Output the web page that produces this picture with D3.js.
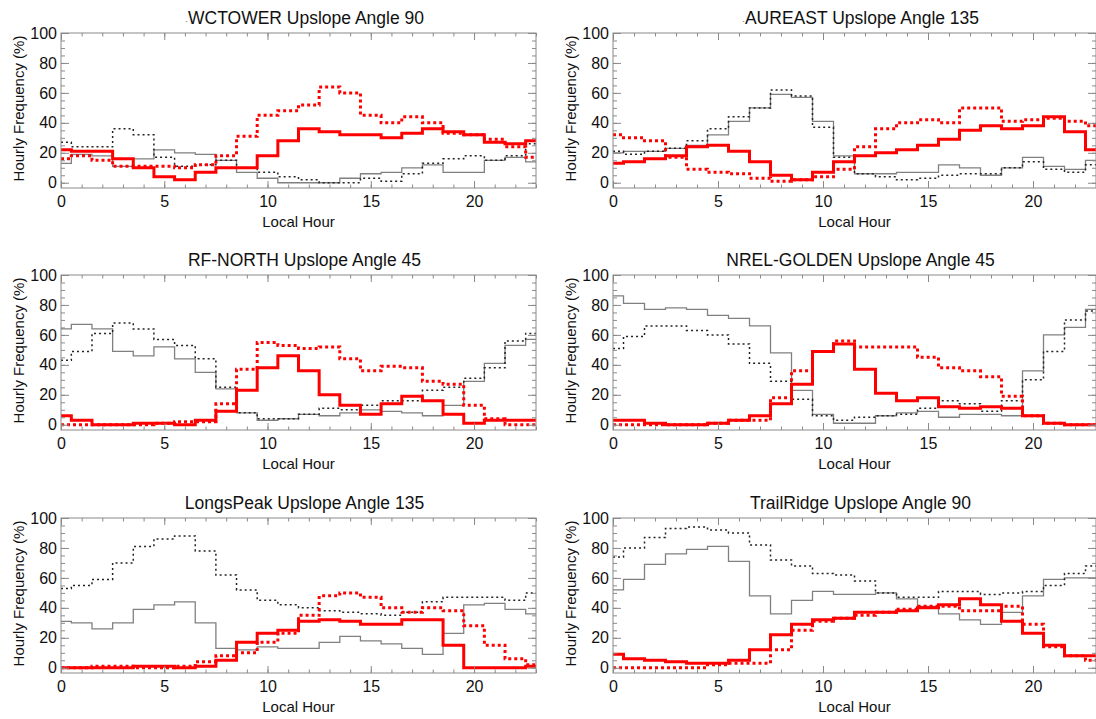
<!DOCTYPE html>
<html>
<head>
<meta charset="utf-8">
<script src="https://cdn.jsdelivr.net/npm/d3@7"></script>
<style>
  html, body { margin: 0; padding: 0; background: #fff; }
  svg { display: block; font-family: "Liberation Sans", Arial, Helvetica, sans-serif; }
</style>
</head>
<body>
<svg id="chart" width="1096" height="719"></svg>
<script>
// Hours of the day (local time), one histogram bin per hour
const hours = d3.range(0, 24);
const xTickLabels = [0, 5, 10, 15, 20];
const yTickLabels = [0, 20, 40, 60, 80, 100];

// WCTOWER, upslope angle 90
const wctowerRedSolid = [22, 21, 21, 16, 10, 4, 2, 7, 10, 10, 18, 28, 36, 34, 32, 32, 30, 33, 36, 34, 32, 27, 26, 28];
const wctowerRedDotted = [16, 18, 15, 11, 11, 11, 10, 12, 18, 31, 45, 48, 52, 64, 60, 45, 40, 44, 40, 33, 32, 29, 24, 17];
const wctowerGraySolid = [13, 19, 18, 11, 16, 22, 20, 19, 15, 7, 3, 0, 0, 0, 3, 6, 7, 10, 12, 7, 7, 15, 17, 14];
const wctowerBlackDotted = [27, 24, 24, 36, 32, 17, 11, 12, 15, 10, 7, 4, 2, 0, 0, 3, 1, 6, 13, 16, 18, 15, 18, 26];

// AUREAST, upslope angle 135
const aureastRedSolid = [13, 14, 16, 18, 24, 25, 21, 14, 5, 2, 7, 14, 18, 20, 22, 25, 29, 35, 38, 36, 38, 44, 34, 22];
const aureastRedDotted = [32, 30, 28, 17, 9, 7, 6, 3, 1, 2, 4, 9, 24, 36, 40, 42, 40, 50, 50, 41, 42, 43, 41, 38];
const aureastGraySolid = [20, 21, 21, 23, 25, 32, 41, 50, 59, 57, 41, 18, 6, 6, 7, 7, 12, 10, 5, 10, 17, 11, 9, 15];
const aureastBlackDotted = [21, 19, 21, 23, 28, 36, 44, 50, 62, 58, 37, 17, 6, 4, 2, 3, 5, 6, 6, 10, 14, 9, 7, 12];

// RF-NORTH, upslope angle 45
const rfnorthRedSolid = [6, 3, 0, 0, 1, 1, 0, 3, 9, 23, 38, 46, 36, 20, 13, 7, 14, 19, 16, 7, 1, 3, 3, 3];
const rfnorthRedDotted = [0, 0, 0, 0, 0, 1, 2, 2, 14, 37, 55, 53, 51, 52, 44, 36, 39, 38, 29, 27, 13, 4, 0, 0];
const rfnorthGraySolid = [64, 67, 64, 49, 46, 52, 44, 35, 24, 8, 3, 4, 7, 6, 8, 10, 9, 8, 6, 13, 29, 41, 53, 57];
const rfnorthBlackDotted = [43, 49, 61, 68, 64, 57, 53, 44, 25, 8, 4, 4, 7, 11, 10, 13, 16, 16, 23, 25, 31, 38, 56, 61];

// NREL-GOLDEN, upslope angle 45
const nrelRedSolid = [3, 3, 1, 0, 0, 1, 3, 6, 14, 27, 49, 54, 37, 21, 16, 18, 12, 11, 12, 11, 6, 1, 0, 0];
const nrelRedDotted = [0, 0, 0, 0, 0, 1, 3, 3, 18, 36, 49, 56, 52, 52, 52, 45, 38, 36, 32, 19, 6, 1, 0, 0];
const nrelGraySolid = [86, 81, 77, 78, 77, 73, 71, 66, 48, 23, 7, 1, 1, 6, 8, 9, 5, 7, 7, 6, 36, 60, 65, 77];
const nrelBlackDotted = [51, 59, 66, 66, 63, 60, 54, 41, 29, 17, 6, 3, 5, 6, 7, 11, 16, 14, 9, 16, 30, 49, 70, 76];

// LongsPeak, upslope angle 135
const longsRedSolid = [0, 0, 0, 0, 1, 1, 0, 1, 5, 17, 23, 25, 31, 32, 31, 29, 29, 32, 32, 15, 0, 0, 0, 1];
const longsRedDotted = [0, 0, 1, 1, 0, 0, 1, 4, 8, 10, 17, 23, 35, 48, 50, 47, 40, 37, 40, 38, 28, 15, 6, 2];
const longsGraySolid = [31, 30, 26, 30, 39, 42, 44, 30, 13, 12, 14, 13, 13, 17, 21, 18, 16, 13, 9, 23, 42, 43, 39, 36];
const longsBlackDotted = [53, 55, 59, 70, 81, 86, 88, 78, 62, 52, 45, 42, 40, 38, 37, 36, 35, 37, 44, 47, 47, 47, 45, 50];

// TrailRidge, upslope angle 90
const trailRedSolid = [9, 6, 5, 4, 3, 3, 5, 12, 22, 29, 32, 33, 37, 37, 38, 40, 42, 46, 42, 31, 23, 15, 8, 8];
const trailRedDotted = [0, 0, 0, 0, 0, 2, 3, 3, 12, 25, 31, 33, 35, 37, 39, 41, 41, 38, 38, 41, 29, 14, 8, 5];
const trailGraySolid = [52, 59, 69, 76, 79, 81, 71, 48, 36, 45, 51, 49, 49, 50, 46, 41, 36, 32, 29, 37, 48, 59, 60, 60];
const trailBlackDotted = [74, 80, 87, 93, 94, 92, 90, 82, 72, 68, 63, 62, 58, 50, 47, 47, 51, 51, 49, 50, 51, 55, 63, 68];

const panels = [
  { title: "WCTOWER Upslope Angle 90", dot: true, col: 0, row: 0,
    series: [wctowerGraySolid, wctowerBlackDotted, wctowerRedDotted, wctowerRedSolid] },
  { title: "AUREAST Upslope Angle 135", dot: true, col: 1, row: 0,
    series: [aureastGraySolid, aureastBlackDotted, aureastRedDotted, aureastRedSolid] },
  { title: "RF-NORTH Upslope Angle 45", col: 0, row: 1,
    series: [rfnorthGraySolid, rfnorthBlackDotted, rfnorthRedDotted, rfnorthRedSolid] },
  { title: "NREL-GOLDEN Upslope Angle 45", col: 1, row: 1,
    series: [nrelGraySolid, nrelBlackDotted, nrelRedDotted, nrelRedSolid] },
  { title: "LongsPeak Upslope Angle 135", col: 0, row: 2,
    series: [longsGraySolid, longsBlackDotted, longsRedDotted, longsRedSolid] },
  { title: "TrailRidge Upslope Angle 90", col: 1, row: 2,
    series: [trailGraySolid, trailBlackDotted, trailRedDotted, trailRedSolid] }
];

// Line styles in drawing order: gray solid, black dotted, red dotted, red solid
const styles = [
  { stroke: "#808080", width: 1.3, dash: null },
  { stroke: "#222222", width: 1.5, dash: "2,3" },
  { stroke: "#ff0000", width: 3, dash: "3,3" },
  { stroke: "#ff0000", width: 3, dash: null }
];

// Plot frames: left/right edges per column, top edge per row
const colX = [[61, 536], [613, 1096]];
const rowY = [33, 275, 518];
const H = 155;
const axisColor = "#8a8a8a";
const fontStack = '"Liberation Sans", Arial, Helvetica, sans-serif';

const svg = d3.select("#chart");

panels.forEach(p => {
  const [x0, x1] = colX[p.col];
  const W = x1 - x0;
  const g = svg.append("g").attr("transform", `translate(${x0},${rowY[p.row]})`);
  const x = d3.scaleLinear().domain([0, 23]).range([0, W]);
  const y = d3.scaleLinear().domain([-3.5, 100]).range([H, 0]);

  // Histogram-style step lines centred on each hour
  const line = d3.line()
    .x((d, i) => x(hours[i]))
    .y(d => y(d))
    .curve(d3.curveStep);

  const plot = g.append("g");
  p.series.forEach((vals, k) => {
    const s = styles[k];
    plot.append("path")
      .datum(vals)
      .attr("d", line)
      .attr("fill", "none")
      .attr("stroke", s.stroke)
      .attr("stroke-width", s.width)
      .attr("stroke-dasharray", s.dash)
      .attr("stroke-linejoin", "miter");
  });

  // Axis box
  g.append("rect").attr("x", 0).attr("y", 0).attr("width", W).attr("height", H)
    .attr("fill", "none").attr("stroke", axisColor).attr("stroke-width", 1);

  const styleAxis = sel => {
    sel.select(".domain").remove();
    sel.selectAll(".tick line").attr("stroke", axisColor);
    sel.selectAll("text").attr("fill", "#111").style("font-size", "16px")
      .style("font-family", fontStack);
  };

  // Bottom axis: major ticks with labels, minor ticks every hour
  g.append("g").attr("transform", `translate(0,${H})`)
    .call(d3.axisBottom(x).tickValues(hours).tickSize(-3.5).tickFormat(""))
    .call(styleAxis);
  g.append("g").attr("transform", `translate(0,${H})`)
    .call(d3.axisBottom(x).tickValues(xTickLabels).tickSize(-7).tickPadding(8).tickFormat(d3.format("d")))
    .call(styleAxis);
  // Top axis, ticks only
  g.append("g")
    .call(d3.axisTop(x).tickValues(hours).tickSize(-3.5).tickFormat(""))
    .call(styleAxis);
  g.append("g")
    .call(d3.axisTop(x).tickValues(xTickLabels).tickSize(-7).tickFormat(""))
    .call(styleAxis);

  // Left axis
  g.append("g")
    .call(d3.axisLeft(y).tickValues(d3.range(0, 101, 5)).tickSize(-4).tickFormat(""))
    .call(styleAxis);
  g.append("g")
    .call(d3.axisLeft(y).tickValues(yTickLabels).tickSize(-8).tickPadding(4).tickFormat(d3.format("d")))
    .call(styleAxis);
  // Right axis, ticks only
  g.append("g").attr("transform", `translate(${W},0)`)
    .call(d3.axisRight(y).tickValues(d3.range(0, 101, 5)).tickSize(-4).tickFormat(""))
    .call(styleAxis);
  g.append("g").attr("transform", `translate(${W},0)`)
    .call(d3.axisRight(y).tickValues(yTickLabels).tickSize(-8).tickFormat(""))
    .call(styleAxis);

  // Title
  const t = g.append("text")
    .attr("x", W / 2 + 6).attr("y", -9)
    .attr("text-anchor", "middle")
    .attr("fill", "#111")
    .style("font-size", "17.5px");
  if (p.dot) t.append("tspan").style("font-size", "9px").attr("fill", "#666").text("·");
  t.append("tspan").text(p.title);

  // Axis titles
  g.append("text")
    .attr("x", W / 2).attr("y", H + 39)
    .attr("text-anchor", "middle")
    .attr("fill", "#111")
    .style("font-size", "15px")
    .text("Local Hour");

  g.append("text")
    .attr("transform", `translate(-37,${H / 2 - 2}) rotate(-90)`)
    .attr("text-anchor", "middle")
    .attr("fill", "#111")
    .style("font-size", "15px")
    .text("Hourly Frequency (%)");
});
</script>
</body>
</html>
